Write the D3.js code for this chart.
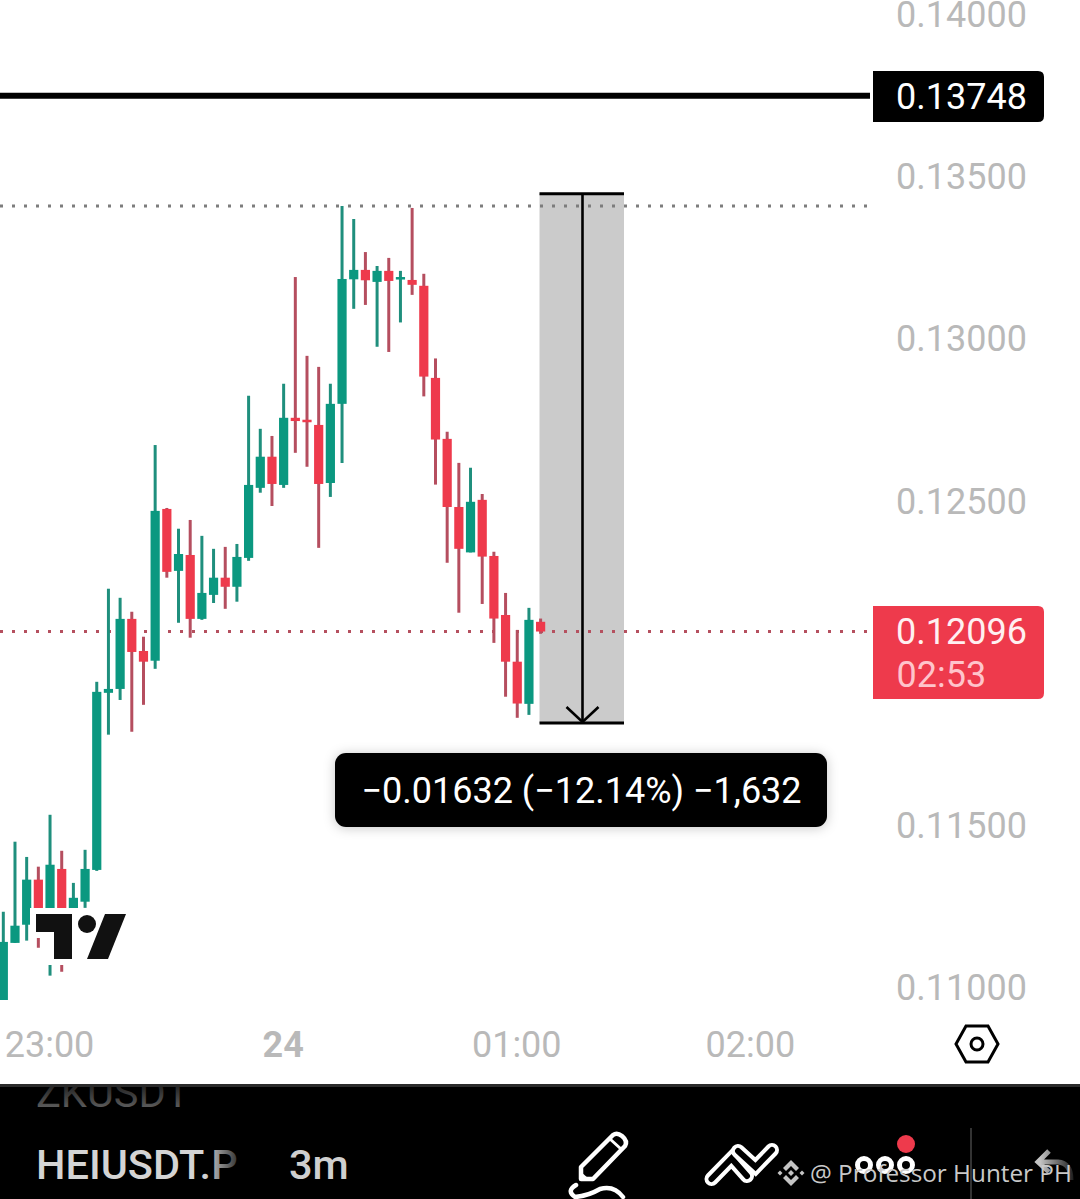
<!DOCTYPE html>
<html>
<head>
<meta charset="utf-8">
<script src="https://cdn.jsdelivr.net/npm/d3@7"></script>
<style>
  html, body { margin: 0; padding: 0; background: #fff; }
  svg { display: block; font-family: Roboto, sans-serif; }
</style>
</head>
<body>
<svg id="chart" width="1080" height="1199"></svg>
<script>
// candles are 3 minutes apart, minutes counted from 00:00 on the 24th
const candleMinutes = d3.range(-72, 67, 3);
const opens = [0.10950,0.11136,0.11192,0.11331,0.11192,0.11364,0.11238,0.11263,0.11361,0.11907,0.11919,0.12135,0.12036,0.12006,0.12474,0.12283,0.12332,0.12135,0.12209,0.12262,0.12234,0.12323,0.12539,0.12635,0.12548,0.12755,0.12749,0.12733,0.12554,0.12798,0.13182,0.13211,0.13174,0.13208,0.13182,0.13180,0.13162,0.12878,0.12690,0.12480,0.12340,0.12502,0.12329,0.12147,0.12003,0.11873,0.12126];
const highs = [0.11232,0.11448,0.11401,0.11371,0.11531,0.11420,0.11321,0.11423,0.11941,0.12228,0.12200,0.12157,0.12080,0.12671,0.12477,0.12413,0.12440,0.12391,0.12351,0.12357,0.12366,0.12823,0.12721,0.12699,0.12860,0.13189,0.12946,0.12912,0.12860,0.13408,0.13368,0.13266,0.13223,0.13248,0.13208,0.13402,0.13199,0.12938,0.12712,0.12616,0.12601,0.12520,0.12342,0.12215,0.12101,0.12169,0.12136];
const lows = [0.10950,0.11136,0.11143,0.11121,0.11035,0.11047,0.11232,0.11244,0.11358,0.11778,0.11885,0.11787,0.11870,0.11981,0.12262,0.12123,0.12077,0.12132,0.12184,0.12166,0.12188,0.12314,0.12524,0.12483,0.12539,0.12647,0.12604,0.12354,0.12511,0.12616,0.13091,0.13103,0.12974,0.12958,0.13049,0.13134,0.12821,0.12549,0.12308,0.12154,0.12340,0.12181,0.12061,0.11895,0.11830,0.11839,0.12089];
const closes = [0.11139,0.11189,0.11331,0.11192,0.11377,0.11213,0.11275,0.11364,0.11910,0.11919,0.12135,0.12033,0.12003,0.12468,0.12280,0.12335,0.12135,0.12215,0.12262,0.12234,0.12326,0.12548,0.12635,0.12551,0.12755,0.12745,0.12742,0.12551,0.12798,0.13183,0.13211,0.13179,0.13208,0.13177,0.13189,0.13165,0.12882,0.12688,0.12480,0.12351,0.12496,0.12327,0.12136,0.12003,0.11874,0.12132,0.12096];

const priceTicks = [0.14, 0.135, 0.13, 0.125, 0.115, 0.11];
const timeTicks = [-60, 0, 60, 120];
const timeLabels = ["23:00", "24", "01:00", "02:00"];

const alertPrice = 0.13748;
const lastPrice = 0.12096;
const sessionHigh = 0.13408;
const measureStart = 0.13446;
const measureEnd = 0.11814;
const measureText = "\u22120.01632 (\u221212.14%) \u22121,632";

const UP = "#0b9880", DOWN = "#ee3a4c", UP_WICK = "#1f8f7d", DOWN_WICK = "#b54e5f";
const AXIS_GREY = "#b9b9b9";

const svg = d3.select("#chart");
const x = d3.scaleLinear().domain([-72.85, 150.6]).range([0, 870]);
const y = d3.scaleLinear().domain([0.11, 0.14]).range([987, 14]);

const defs = svg.append("defs");
defs.append("clipPath").attr("id", "plot").append("rect")
    .attr("width", 870).attr("height", 1000);
const fade = defs.append("linearGradient").attr("id", "fadeName")
    .attr("gradientUnits", "userSpaceOnUse")
    .attr("x1", 205).attr("x2", 238).attr("y1", 0).attr("y2", 0);
fade.append("stop").attr("offset", 0).attr("stop-color", "#d4d4d4");
fade.append("stop").attr("offset", 1).attr("stop-color", "#333");
const topFade = defs.append("linearGradient").attr("id", "fadeTop")
    .attr("gradientUnits", "userSpaceOnUse")
    .attr("x1", 0).attr("x2", 0).attr("y1", 1087).attr("y2", 1108);
topFade.append("stop").attr("offset", 0).attr("stop-color", "#262626");
topFade.append("stop").attr("offset", 1).attr("stop-color", "#5c5c5c");
const undoFade = defs.append("linearGradient").attr("id", "fadeUndo")
    .attr("gradientUnits", "userSpaceOnUse")
    .attr("x1", 1040).attr("x2", 1074).attr("y1", 0).attr("y2", 0);
undoFade.append("stop").attr("offset", 0).attr("stop-color", "#c4c4c4");
undoFade.append("stop").attr("offset", 1).attr("stop-color", "#1c1c1c");

// measure tool background, sits under the dotted lines
const mLeft = 539.5, mRight = 624;
const mMid = 582.5;
svg.append("rect")
    .attr("x", mLeft).attr("y", y(measureStart))
    .attr("width", mRight - mLeft).attr("height", y(measureEnd) - y(measureStart))
    .attr("fill", "#cbcbcb");

// dotted lines: day high and last price
function dottedLine(price, colour) {
    svg.append("line")
        .attr("x1", 0).attr("x2", 868)
        .attr("y1", y(price)).attr("y2", y(price))
        .attr("stroke", colour)
        .attr("stroke-width", 3)
        .attr("stroke-dasharray", "3 9");
}
dottedLine(sessionHigh, "#7d7d7d");
dottedLine(lastPrice, "#b5505f");

// alert line
svg.append("line")
    .attr("x1", 0).attr("x2", 870)
    .attr("y1", y(alertPrice)).attr("y2", y(alertPrice))
    .attr("stroke", "#000").attr("stroke-width", 6);

// candles
const candles = candleMinutes.map((t, i) => ({ t, o: opens[i], h: highs[i], l: lows[i], c: closes[i] }));
const candleG = svg.append("g").attr("clip-path", "url(#plot)")
    .selectAll("g").data(candles).enter().append("g");

candleG.append("line")
    .attr("x1", d => x(d.t)).attr("x2", d => x(d.t))
    .attr("y1", d => y(d.h)).attr("y2", d => y(d.l))
    .attr("stroke", d => d.c >= d.o ? UP_WICK : DOWN_WICK)
    .attr("stroke-width", 3);

candleG.append("rect")
    .attr("x", d => x(d.t) - 4.6)
    .attr("width", 9.2)
    .attr("y", d => y(Math.max(d.o, d.c)))
    .attr("height", d => Math.max(2.5, Math.abs(y(d.o) - y(d.c))))
    .attr("fill", d => d.c >= d.o ? UP : DOWN);

// measure tool lines and arrow
const measure = svg.append("g").attr("fill", "none").attr("stroke", "#000");
measure.selectAll("line.edge").data([measureStart, measureEnd]).enter().append("line")
    .attr("class", "edge")
    .attr("x1", mLeft).attr("x2", mRight)
    .attr("y1", d => y(d)).attr("y2", d => y(d))
    .attr("stroke-width", 3);
measure.append("line")
    .attr("x1", mMid).attr("x2", mMid)
    .attr("y1", y(measureStart)).attr("y2", y(measureEnd))
    .attr("stroke-width", 2.6);
measure.append("path")
    .attr("d", `M${mMid - 16},${y(measureEnd) - 16}L${mMid},${y(measureEnd) - 1}L${mMid + 16},${y(measureEnd) - 16}`)
    .attr("stroke-width", 2.6);

// measure readout
svg.append("rect")
    .attr("x", 335).attr("y", 753).attr("width", 492).attr("height", 74)
    .attr("rx", 11).attr("fill", "#000")
    .style("filter", "drop-shadow(0 1px 6px rgba(0,0,0,0.22))");
svg.append("text")
    .attr("x", 581.5).attr("y", 802.5)
    .attr("text-anchor", "middle")
    .attr("font-size", 36).attr("fill", "#fff")
    .text(measureText);

// TradingView logo, with its white halo over the candles
const logo = svg.append("g");
const logoShapes = [
    "M36,914H72V959H54V932H36Z",
    "M105,914H126L108,959H87Z",
    "M78,924a9,9 0 1,0 18,0a9,9 0 1,0 -18,0Z"
];
logo.selectAll("path.halo").data(logoShapes).enter().append("path")
    .attr("class", "halo").attr("d", d => d)
    .attr("fill", "#fff").attr("stroke", "#fff").attr("stroke-width", 12);
logo.selectAll("path.mark").data(logoShapes).enter().append("path")
    .attr("class", "mark").attr("d", d => d)
    .attr("fill", "#111");

// price axis
const yAxis = svg.append("g")
    .attr("transform", "translate(1027,0)")
    .call(d3.axisRight(y).tickValues(priceTicks).tickFormat(d3.format(".5f")).tickSize(0));
yAxis.select(".domain").remove();
yAxis.selectAll("text")
    .attr("x", 0).attr("dy", "0.35em").attr("text-anchor", "end")
    .attr("font-family", "Roboto, sans-serif").attr("font-size", 36).attr("fill", AXIS_GREY);

// time axis
const xAxis = svg.append("g")
    .attr("transform", "translate(-1,1025)")
    .call(d3.axisBottom(x).tickValues(timeTicks).tickFormat((d, i) => timeLabels[i]).tickSize(0));
xAxis.select(".domain").remove();
xAxis.selectAll("text")
    .attr("y", 0).attr("dy", "0.88em")
    .attr("font-family", "Roboto, sans-serif").attr("font-size", 36).attr("fill", AXIS_GREY)
    .attr("font-weight", (d, i) => timeLabels[i] === "24" ? 700 : 400);

// price labels, square on the left and rounded on the right
function priceTag(top, bottom, colour) {
    svg.append("path")
        .attr("d", `M873,${top}H1038Q1044,${top} 1044,${top + 6}V${bottom - 6}Q1044,${bottom} 1038,${bottom}H873Z`)
        .attr("fill", colour);
}
priceTag(71, 122, "#000");
svg.append("text").attr("x", 1027).attr("y", 109)
    .attr("text-anchor", "end").attr("font-size", 36).attr("fill", "#fff")
    .text(d3.format(".5f")(alertPrice));
priceTag(606, 699, DOWN);
svg.append("text").attr("x", 1027).attr("y", 644)
    .attr("text-anchor", "end").attr("font-size", 36).attr("fill", "#fff0f1")
    .text(d3.format(".5f")(lastPrice));
svg.append("text").attr("x", 896.5).attr("y", 687)
    .attr("font-size", 36).attr("fill", "#ffc4cb")
    .text("02:53");

// settings hexagon
const hex = svg.append("g").attr("fill", "none").attr("stroke", "#000").attr("stroke-width", 3);
hex.append("path").attr("d", "M956,1044L966,1026H988L998,1044L988,1062H966Z");
hex.append("circle").attr("cx", 977).attr("cy", 1044).attr("r", 6);

// bottom toolbar
svg.append("rect").attr("x", 0).attr("y", 1084).attr("width", 1080).attr("height", 115).attr("fill", "#000");
svg.append("rect").attr("x", 0).attr("y", 1084).attr("width", 1080).attr("height", 3).attr("fill", "#2b2b2b");

defs.append("clipPath").attr("id", "bar").append("rect")
    .attr("y", 1087).attr("width", 1080).attr("height", 112);
defs.append("clipPath").attr("id", "nameClip").append("rect")
    .attr("x", 30).attr("y", 1140).attr("width", 208).attr("height", 50);
const bar = svg.append("g").attr("clip-path", "url(#bar)");

bar.append("text").attr("x", 36).attr("y", 1107)
    .attr("font-size", 41.5).attr("fill", "url(#fadeTop)").text("ZKUSDT");
bar.append("text").attr("x", 36).attr("y", 1179).attr("clip-path", "url(#nameClip)")
    .attr("font-size", 41.5).attr("font-weight", 500).attr("fill", "url(#fadeName)").text("HEIUSDT.P");
bar.append("text").attr("x", 289).attr("y", 1179)
    .attr("font-size", 41.5).attr("font-weight", 500).attr("fill", "#cfcfcf").text("3m");

const icons = bar.append("g").attr("fill", "none").attr("stroke", "#fff")
    .attr("stroke-width", 4.5).attr("stroke-linejoin", "round").attr("stroke-linecap", "round");
// pencil and squiggle
icons.append("path").attr("d", "M581,1179V1167L613,1135Q617,1132 622,1136Q628,1141 625,1146L593,1179Z");
icons.append("path").attr("d", "M610,1139L621,1149").attr("stroke-width", 3);
bar.append("path").attr("d", "M580,1179V1171L589,1179Z").attr("fill", "#fff");
icons.append("path").attr("d", "M576,1185Q566,1191 575,1197Q588,1196 600,1189Q614,1185 623,1197");

// double chevron, drawn as white outline with a black core
const chevrons = [
    "M711.5,1179L731.5,1158.5L747,1176",
    "M738,1151L755.5,1167L772,1150"
];
chevrons.forEach(d => {
    bar.append("path").attr("d", d).attr("fill", "none").attr("stroke", "#fff")
        .attr("stroke-width", 14).attr("stroke-linecap", "round").attr("stroke-linejoin", "miter");
    bar.append("path").attr("d", d).attr("fill", "none").attr("stroke", "#000")
        .attr("stroke-width", 6).attr("stroke-linecap", "round").attr("stroke-linejoin", "miter");
});

// three dots
icons.selectAll("circle").data([864, 885, 906]).enter().append("circle")
    .attr("cx", d => d).attr("cy", 1165).attr("r", 6.5).attr("stroke-width", 5);

bar.append("circle").attr("cx", 906).attr("cy", 1144).attr("r", 9).attr("fill", DOWN);
bar.append("line").attr("x1", 971).attr("x2", 971).attr("y1", 1128).attr("y2", 1199)
    .attr("stroke", "#333").attr("stroke-width", 2);
// undo arrow
bar.append("path")
    .attr("d", "M1049,1151L1038,1162L1049,1172M1038,1162H1058Q1071,1163 1071,1180")
    .attr("fill", "none").attr("stroke", "url(#fadeUndo)").attr("stroke-width", 5);

// watermark
const diamond = bar.append("g").attr("fill", "#c4c4c4");
diamond.selectAll("path").data([
    "M791,1160L799,1168L796,1171L791,1166L786,1171L783,1168Z",
    "M791,1186L799,1178L796,1175L791,1180L786,1175L783,1178Z",
    "M791,1170L794,1173L791,1176L788,1173Z",
    "M780,1170.5L782.5,1173L780,1175.5L777.5,1173Z",
    "M802,1170.5L804.5,1173L802,1175.5L799.5,1173Z"
]).enter().append("path").attr("d", d => d);
bar.append("text").attr("x", 810).attr("y", 1181.5)
    .attr("font-family", "'Open Sans', sans-serif")
    .attr("font-size", 24.3).attr("fill", "#c9c9c9").text("@ Professor Hunter PH");
</script>
</body>
</html>
